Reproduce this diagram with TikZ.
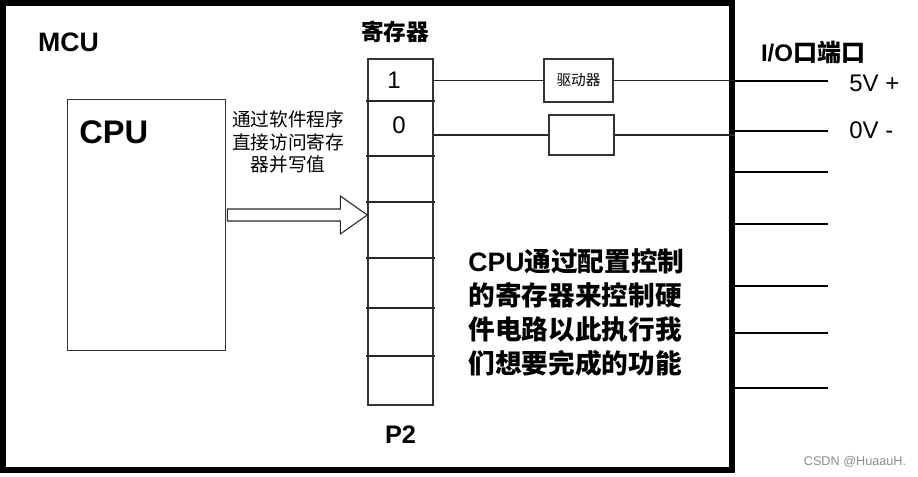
\documentclass[tikz,border=0pt]{standalone}
\usepackage{fontspec}
\setmainfont{Liberation Sans}
\newfontfamily\cjk{Noto Sans CJK SC}
\usetikzlibrary{positioning}

\begin{document}
\begin{tikzpicture}[
    x=0.75pt, y=-0.75pt,
    every node/.style={inner sep=0pt},
    box/.style={rectangle, draw=black!80, line width=0.8pt},
    wire/.style={draw=black!85, line width=0.8pt},
    hollow/.style={draw=black!85, line width=0.8pt, fill=white},
    heading/.style={font=\fontsize{17}{20}\selectfont\bfseries},
    bit/.style={font=\fontsize{18}{21}\selectfont},
]
\useasboundingbox (0,0) rectangle (918,476);
\node[rectangle, draw=black, line width=4.5pt, minimum width=729*0.75pt, minimum height=467*0.75pt] (mcu) at (367.5,236.5) {};
\node[heading, font=\fontsize{20}{24}\selectfont\bfseries] (mcu_lbl) at (68.5,42.5) {MCU};
% CPU block
\node[box, line width=0.7pt, minimum width=158*0.75pt, minimum height=251*0.75pt] (cpu) at (146,224.5) {};
\node[font=\fontsize{24.5}{28}\selectfont\bfseries, anchor=west] (cpu_lbl) at (79,132.5) {CPU};
\node[font=\fontsize{14}{17}\selectfont\cjk, align=center] (access) at (288,142) {通过软件程序\\直接访问寄存\\器并写值};
% register P2
\node[box, line width=1pt, minimum width=65*0.75pt, minimum height=346*0.75pt] (reg) at (400.5,232) {};
\foreach \y in {101,156,202,258,308,356} {
    \draw[wire] (366,\y) -- (435,\y);
}
\node[heading, font=\fontsize{17}{20}\selectfont\cjk\bfseries] (reg_lbl) at (395,32) {寄存器};
\node[heading, font=\fontsize{19}{22}\selectfont\bfseries, below=15pt of reg] (p2) {P2};
\node[bit] (bit1) at (394,80) {1};
\node[bit] (bit0) at (399,125) {0};
% write arrow
\coordinate (wtip) at (reg.west |- 0,215);
\draw[hollow] (wtip) -- ++(-27,-19) -- ++(0,13) -- ++(-113,0) -- ++(0,12)
    -- ++(113,0) -- ++(0,13) -- cycle;
% driver boxes
\node[box, minimum width=69*0.75pt, minimum height=43*0.75pt, font=\fontsize{11}{13}\selectfont\cjk] (drv) at (578.5,80.5) {驱动器};
\node[box, minimum width=65*0.75pt, minimum height=40*0.75pt] (blank) at (581.5,135) {};
\draw[wire] (reg.east |- drv.west) -- (drv.west);
\draw[wire] (reg.east |- blank.west) -- (blank.west);
\draw[wire] (drv.east) -- (drv.east -| mcu.east);
\draw[wire] (blank.east) -- (blank.east -| mcu.east);
% I/O pins
\node[font=\fontsize{18}{21}\selectfont\bfseries] (io_lbl) at (813,52) {I/O{\cjk 口端口}};
\foreach \i/\y in {1/81,2/131,3/172,4/224,5/286,6/333,7/388} {
    \coordinate (pin\i) at (828,\y);
    \draw[wire, draw=black] (pin\i -| mcu.east) -- (pin\i);
}
\node[bit, anchor=west] (vcc) at (849,83) {5V +};
\node[bit, anchor=west] (gnd) at (849,130) {0V -};
% note
\node[font=\fontsize{20}{25.5}\selectfont\bfseries, align=left] (note) at (576.5,312.5)
    {CPU{\cjk 通过配置控制}\\{\cjk 的寄存器来控制硬}\\{\cjk 件电路以此执行我}\\{\cjk 们想要完成的功能}};
\node[font=\fontsize{9.5}{11}\selectfont, text=black!45] (mark) at (855,462) {CSDN @HuaauH.};
\end{tikzpicture}
\end{document}
